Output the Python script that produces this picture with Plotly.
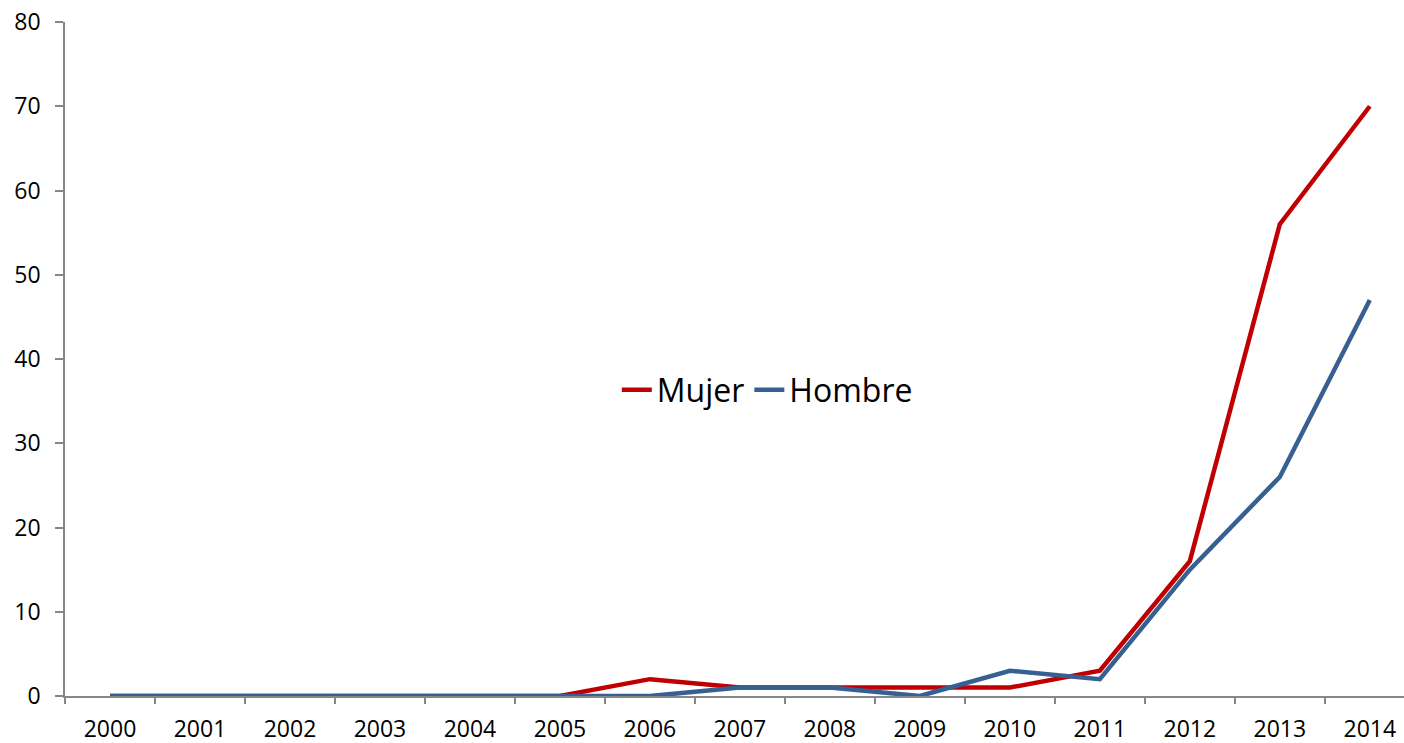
import plotly.graph_objects as go

years = [str(y) for y in range(2000, 2015)]
mujer = [0, 0, 0, 0, 0, 0, 2, 1, 1, 1, 1, 3, 16, 56, 70]
hombre = [0, 0, 0, 0, 0, 0, 0, 1, 1, 0, 3, 2, 15, 26, 47]
y_ticks = [0, 10, 20, 30, 40, 50, 60, 70, 80]

RED = "#C00000"
BLUE = "#376092"
AXIS = "#868686"
FONT = "Open Sans"

fig = go.Figure()
fig.add_trace(go.Scatter(x=years, y=mujer, mode="lines", name="Mujer",
                         line=dict(color=RED, width=4.5)))
fig.add_trace(go.Scatter(x=years, y=hombre, mode="lines", name="Hombre",
                         line=dict(color=BLUE, width=4.5)))

fig.update_layout(
    width=1404, height=743,
    margin=dict(l=65, r=0, t=22, b=47),
    paper_bgcolor="white", plot_bgcolor="white",
    font=dict(family=FONT, color="black", size=23),
    showlegend=True,
    legend=dict(x=0.5245, y=0.454, xanchor="center", yanchor="middle",
                orientation="h", font=dict(size=32, family=FONT),
                bgcolor="rgba(0,0,0,0)", itemwidth=30),
)
fig.update_xaxes(
    type="category", range=[-0.5, 14.38], automargin=False,
    showline=True, linecolor=AXIS, linewidth=1.5,
    ticks="outside", tickson="boundaries", ticklen=6, tickcolor=AXIS, tickwidth=1.5,
    showgrid=False, zeroline=False,
    tickfont=dict(size=23, family=FONT),
    ticklabelstandoff=12,
)
fig.update_yaxes(
    range=[0, 80], tickvals=y_ticks, automargin=False,
    showline=True, linecolor=AXIS, linewidth=1.5,
    ticks="outside", ticklen=8, tickcolor=AXIS, tickwidth=1.5,
    showgrid=False, zeroline=False,
    tickfont=dict(size=23, family=FONT),
    ticklabelstandoff=10,
)

fig.write_html(
    "out.html",
    config={"displayModeBar": False},
    post_script="document.body.style.margin='0px';document.body.style.overflow='hidden';",
)
